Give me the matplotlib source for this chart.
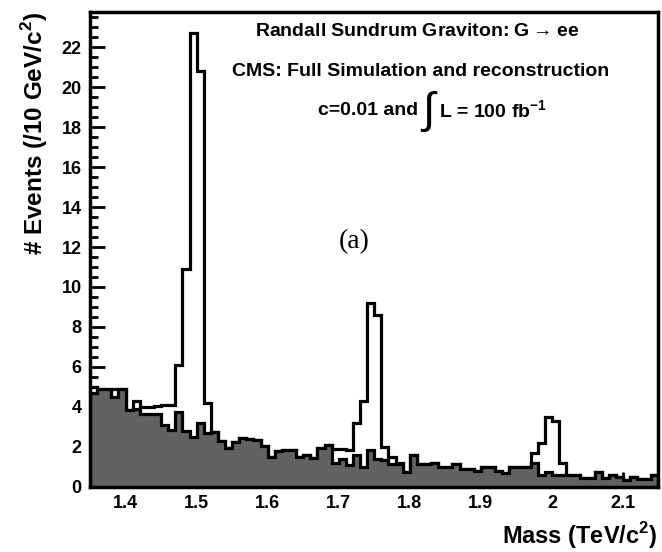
import numpy as np
import matplotlib
matplotlib.use("Agg")
import matplotlib.pyplot as plt
from matplotlib.ticker import MultipleLocator

# ---- data (80 bins of 10 GeV from 1.35 to 2.15 TeV) ----
bin_lo = 1.35
bin_hi = 2.15
n_bins = 80

background = [
    4.7, 4.9, 4.9, 4.5, 4.9, 3.85, 3.9, 3.65, 3.65, 3.65,
    3.1, 2.85, 3.75, 2.8, 2.5, 3.2, 2.7, 2.75, 2.3, 1.95,
    2.25, 2.45, 2.4, 2.35, 2.05, 1.5, 1.8, 1.85, 1.85, 1.5,
    1.6, 1.45, 1.95, 2.1, 1.2, 1.4, 1.1, 1.6, 1.0, 1.85,
    1.4, 1.35, 1.15, 1.15, 0.75, 1.6, 1.15, 1.15, 1.2, 1.0,
    1.0, 1.15, 0.9, 0.9, 0.8, 1.0, 1.0, 0.8, 0.7, 1.0,
    1.0, 1.0, 1.2, 0.6, 0.75, 0.6, 0.6, 0.6, 0.6, 0.45,
    0.45, 0.75, 0.45, 0.6, 0.5, 0.35, 0.5, 0.4, 0.4, 0.6,
]

signal_plus_bkg = [
    5.0, 4.9, 4.9, 4.9, 4.9, 3.85, 4.3, 4.0, 4.0, 4.05,
    4.1, 4.1, 6.1, 10.9, 22.7, 20.8, 4.2, 2.75, 2.3, 1.95,
    2.25, 2.45, 2.4, 2.35, 2.05, 1.5, 1.8, 1.85, 1.85, 1.5,
    1.6, 1.45, 1.95, 2.1, 1.9, 1.9, 1.85, 3.2, 4.3, 9.2,
    8.6, 2.0, 1.5, 1.2, 0.75, 1.6, 1.15, 1.15, 1.2, 1.0,
    1.0, 1.15, 0.9, 0.9, 0.8, 1.0, 1.0, 0.8, 0.7, 1.0,
    1.0, 1.0, 1.7, 2.2, 3.5, 3.3, 1.2, 0.6, 0.6, 0.45,
    0.45, 0.75, 0.45, 0.6, 0.5, 0.35, 0.5, 0.4, 0.4, 0.6,
]

x_ticks = [1.4, 1.5, 1.6, 1.7, 1.8, 1.9, 2.0, 2.1]
x_tick_labels = ["1.4", "1.5", "1.6", "1.7", "1.8", "1.9", "2", "2.1"]
y_ticks = [0, 2, 4, 6, 8, 10, 12, 14, 16, 18, 20, 22]

edges = np.linspace(bin_lo, bin_hi, n_bins + 1)

plt.rcParams["font.family"] = ["Liberation Sans", "DejaVu Sans"]
plt.rcParams["mathtext.fontset"] = "custom"
plt.rcParams["mathtext.rm"] = "Liberation Sans"
plt.rcParams["mathtext.bf"] = "Liberation Sans:bold"

fig = plt.figure(figsize=(6.62, 5.52), dpi=100)
ax = fig.add_axes([0.136, 0.118, 0.8587, 0.860])

# total (signal + background) as white histogram with black outline
ax.stairs(signal_plus_bkg, edges, fill=True, facecolor="white", zorder=1)
ax.stairs(signal_plus_bkg, edges, color="black", lw=2.3, zorder=2)
# background as dark grey filled histogram
ax.stairs(background, edges, fill=True, facecolor="#626262", zorder=3)
ax.stairs(background, edges, color="black", lw=2.3, zorder=4)

ax.set_xlim(bin_lo, bin_hi)
ax.set_ylim(0, 23.75)

ax.set_xticks(x_ticks)
ax.set_xticklabels(x_tick_labels)
ax.set_yticks(y_ticks)
ax.xaxis.set_minor_locator(MultipleLocator(0.02))
ax.yaxis.set_minor_locator(MultipleLocator(0.5))
ax.tick_params(which="both", direction="in", top=False, right=False, width=2)
ax.tick_params(which="major", length=11, labelsize=13, pad=6)
ax.tick_params(which="minor", length=6)
for lab in ax.get_xticklabels() + ax.get_yticklabels():
    lab.set_fontweight("bold")
for sp in ax.spines.values():
    sp.set_linewidth(2.5)
    sp.set_zorder(10)

fig.text(0.993, 0.030, "Mass (TeV/c$^{\\mathbf{2}}$)", fontsize=17, fontweight="bold",
         ha="right", va="center")
ax.set_ylabel("# Events (/10 GeV/c$^{\\mathbf{2}}$)", fontsize=17.5, fontweight="bold",
              loc="top", labelpad=8)

ax.text(0.575, 0.960, "Randall Sundrum Graviton: G$\\rightarrow$ee", transform=ax.transAxes,
        ha="center", va="center", fontsize=14, fontweight="bold")
ax.text(0.582, 0.876, "CMS: Full Simulation and reconstruction", transform=ax.transAxes,
        ha="center", va="center", fontsize=14, fontweight="bold")
ax.text(0.578, 0.792, "c=0.01 and", transform=ax.transAxes,
        ha="right", va="center", fontsize=14, fontweight="bold")
ax.text(0.596, 0.790, "$\\int$", transform=ax.transAxes,
        ha="center", va="center", fontsize=32)
ax.text(0.614, 0.792, "L = 100 fb$^{\\mathbf{-1}}$", transform=ax.transAxes,
        ha="left", va="center", fontsize=14, fontweight="bold")
ax.text(0.465, 0.517, "(a)", transform=ax.transAxes, ha="center", va="center",
        fontsize=20, family="Liberation Serif")

fig.savefig("out.png", dpi=100)
